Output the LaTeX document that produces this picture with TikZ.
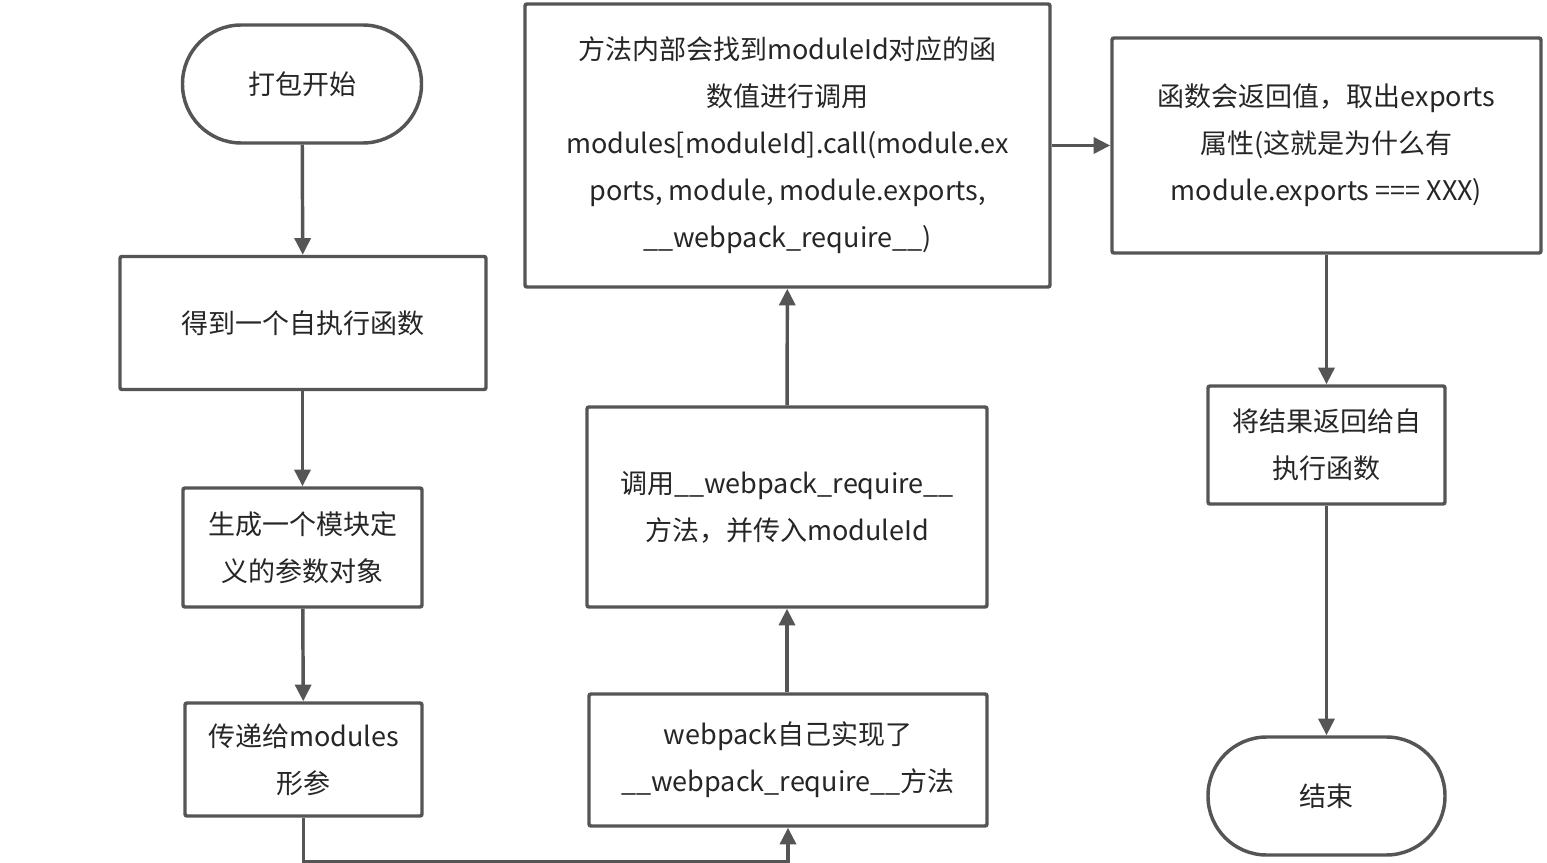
\documentclass[tikz,border=0pt]{standalone}
\usepackage{fontspec}
\setmainfont{Noto Sans CJK SC}
\usetikzlibrary{arrows.meta}
\definecolor{ln}{HTML}{555555}
\definecolor{tx}{HTML}{262626}
\begin{document}
\begin{tikzpicture}[x=0.75pt,y=-0.75pt,
  box/.style={draw=ln, line width=2.6pt, rounded corners=1.5pt, fill=white, inner sep=0pt,
    align=center, text=tx, font=\fontsize{20.25}{35.25}\selectfont},
  pill/.style={box, rounded corners=44pt},
  arr/.style={draw=ln, line width=2.6pt, -{Triangle[length=12.5pt,width=12pt]}}]
\useasboundingbox (0,0) rectangle (1547,863);
\fill[white] (0,0) rectangle (1547,863);
\node[pill, minimum width=179.25pt, minimum height=88.5pt] (s) at (302,84) {打包开始};
\node[box, minimum width=274.5pt, minimum height=99.75pt] (b2) at (303,323) {得到一个自执行函数};
\node[box, minimum width=179.25pt, minimum height=89.25pt] (b3) at (302.5,547.5) {生成一个模块定\\义的参数对象};
\node[box, minimum width=177.75pt, minimum height=84.75pt] (b4) at (303.5,759.5) {传递给modules\\形参};
\node[box, minimum width=298.5pt, minimum height=99pt] (b5) at (788,760) {webpack自己实现了\\\_\_webpack\_require\_\_方法};
\node[box, minimum width=300pt, minimum height=150pt] (b6) at (787,507) {调用\_\_webpack\_require\_\_\\方法，并传入moduleId};
\node[box, minimum width=393.75pt, minimum height=212.25pt] (b7) at (787.5,145.5) {方法内部会找到moduleId对应的函\\数值进行调用\\modules[moduleId].call(module.ex\\ports, module, module.exports,\\\_\_webpack\_require\_\_)};
\node[box, minimum width=321.75pt, minimum height=161.25pt] (b8) at (1326.5,145.5) {函数会返回值，取出exports\\属性(这就是为什么有\\module.exports === XXX)};
\node[box, minimum width=177.75pt, minimum height=88.5pt] (b9) at (1326.5,445) {将结果返回给自\\执行函数};
\node[pill, minimum width=177.75pt, minimum height=88.5pt] (e) at (1326.5,796) {结束};
\draw[arr] (s) -- (b2);
\draw[arr] (b2.south -| b3) -- (b3);
\draw[arr] (b3) -- (b4);
\draw[arr] (b4.south) -- ++(0,44) -| (b5.south);
\draw[arr] (b5.north -| b6) -- (b6.south);
\draw[arr] (b6) -- (b7);
\draw[arr] (b7) -- (b8);
\draw[arr] (b8) -- (b9);
\draw[arr] (b9) -- (e);
\end{tikzpicture}
\end{document}
